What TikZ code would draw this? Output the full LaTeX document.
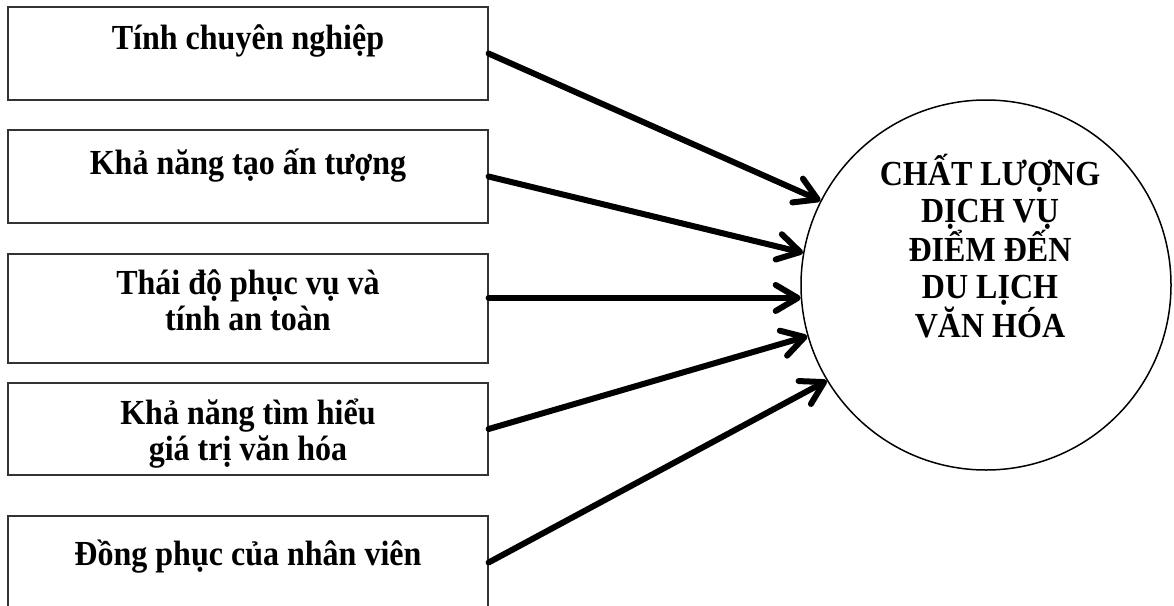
\documentclass[tikz,border=0pt]{standalone}
\usepackage{fontspec}
\setmainfont{Liberation Serif}
\newfontfamily\labelfont[FakeStretch=0.91]{Liberation Serif}
\usetikzlibrary{arrows.meta}
\tikzset{
  factor/.style={draw=black!80,line width=1.2pt,minimum width=480pt,minimum height=93pt,inner sep=0pt},
  factortext/.style={font=\labelfont\bfseries\fontsize{35.2}{36}\selectfont,align=center,inner sep=0pt,anchor=base},
  outcome/.style={circle,draw,line width=1.5pt,minimum size=370pt,inner sep=0pt},
  link/.style={line width=6pt,line cap=round,-{Straight Barb[length=22pt,width=26pt,round]}}
}

\begin{document}
\begin{tikzpicture}[x=1pt,y=-1pt]
  \useasboundingbox (0,0) rectangle (1174,605);
  % factor boxes on the left
  \node[factor] (b1) at (248,53.5) {};
  \node[factor] (b2) at (248,176.5) {};
  \node[factor,minimum height=109pt] (b3) at (248,308.5) {};
  \node[factor,minimum height=92pt] (b4) at (248,429) {};
  \node[factor] (b5) at (248,562.5) {};
  % labels sit on the baseline of their last line
  \node[factortext] (t1) at (248,49) {Tính chuyên nghiệp};
  \node[factortext] (t2) at (248,174) {Khả năng tạo ấn tượng};
  \node[factortext] (t3) at (248,330) {Thái độ phục vụ và\\tính an toàn};
  \node[factortext] (t4) at (248,460) {Khả năng tìm hiểu\\giá trị văn hóa};
  \node[factortext] (t5) at (248,565) {Đồng phục của nhân viên};
  % outcome circle
  \node[outcome] (c) at (986,285) {};
  \node[factortext,font=\labelfont\bfseries\fontsize{35.2}{36.8}\selectfont] (ct) at (990,337)
    {CHẤT LƯỢNG\\DỊCH VỤ\\ĐIỂM ĐẾN\\DU LỊCH\\VĂN HÓA};
  \draw[link] (b1.east) -- (c.153);
  \draw[link] (b2.east) -- (c.170);
  \draw[link] (b3.east |- c.184) -- (c.184);
  \draw[link] (b4.east) -- (c.196);
  \draw[link] (b5.east) -- (c.211);
\end{tikzpicture}
\end{document}
